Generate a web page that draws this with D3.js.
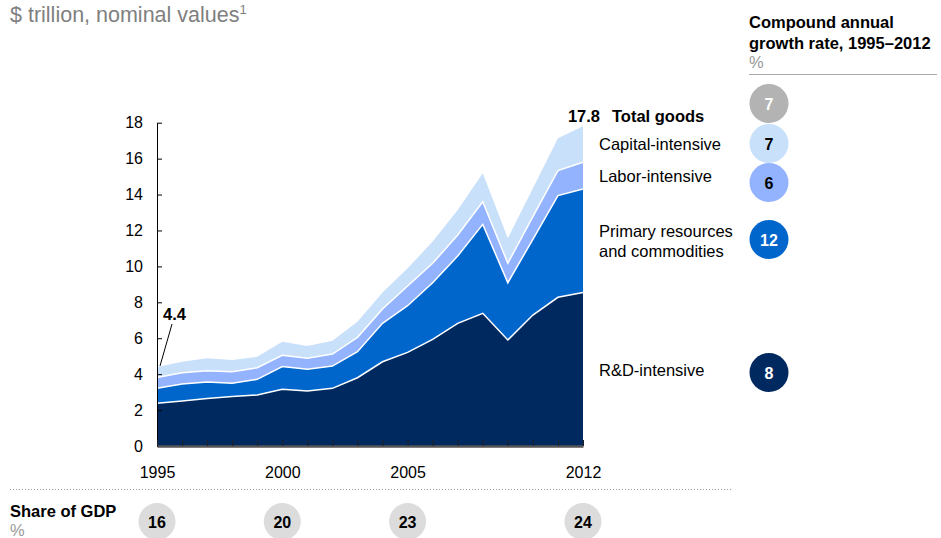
<!DOCTYPE html>
<html>
<head>
<meta charset="utf-8">
<script src="https://cdn.jsdelivr.net/npm/d3@7"></script>
<style>
  body { margin: 0; background: #fff; }
  svg { font-family: "Liberation Sans", Arial, sans-serif; }
</style>
</head>
<body>
<svg></svg>
<script>
// data ($ trillion, layer thickness)
const years = [1995,1996,1997,1998,1999,2000,2001,2002,2003,2004,2005,2006,2007,2008,2009,2010,2011,2012]
const rdIntensive = [2.38,2.50,2.64,2.75,2.84,3.16,3.06,3.21,3.80,4.69,5.21,5.94,6.83,7.39,5.90,7.29,8.28,8.54]
const primaryRes = [0.83,0.95,0.92,0.74,0.87,1.26,1.21,1.24,1.45,2.14,2.60,3.15,3.75,4.95,3.19,4.22,5.66,5.77]
const laborIntensive = [0.61,0.63,0.63,0.65,0.65,0.63,0.61,0.67,0.80,0.80,1.10,1.08,1.17,1.26,1.08,1.26,1.39,1.49]
const capitalIntensive = [0.58,0.61,0.69,0.65,0.61,0.76,0.69,0.74,0.87,0.91,0.98,1.21,1.39,1.58,1.39,1.58,1.80,2.00]

const seriesKeys = ['rd','primary','labor','capital']
const seriesLabels = [['R&D-intensive'], ['Primary resources','and commodities'], ['Labor-intensive'], ['Capital-intensive']]
const cagr = [8, 12, 6, 7]
const totalCagr = 7
const yTicks = [0,2,4,6,8,10,12,14,16,18]
const labelYears = [1995, 2000, 2005, 2012]
const gdpShare = [16, 20, 23, 24]

const width = 941, height = 538
const svg = d3.select('svg').attr('width', width).attr('height', height)

const colors = ['#002960', '#0066cc', '#93b3ff', '#c8e0fa']
const textColors = ['#fff', '#fff', '#000', '#000']

const table = years.map((y, i) => ({
  year: y, rd: rdIntensive[i], primary: primaryRes[i], labor: laborIntensive[i], capital: capitalIntensive[i]
}))
const stacked = d3.stack().keys(seriesKeys)(table)

const x = d3.scaleLinear().domain([1995, 2012]).range([157, 583])
const y = d3.scaleLinear().domain([0, 18]).range([446, 122.7])

// areas
const area = d3.area()
  .x(d => x(d.data.year))
  .y0(d => y(d[0]))
  .y1(d => y(d[1]))

svg.append('g').selectAll('path')
  .data(stacked)
  .enter().append('path')
  .attr('d', area)
  .attr('fill', (d, i) => colors[i])

// white separators between layers
const topLine = d3.line().x(d => x(d.data.year)).y(d => y(d[1]))
svg.append('g').selectAll('path')
  .data(stacked.slice(0, 3))
  .enter().append('path')
  .attr('d', topLine)
  .attr('fill', 'none')
  .attr('stroke', '#fff')
  .attr('stroke-width', 1.5)

// axes
const yAxis = d3.axisLeft(y).tickValues(yTicks).tickSize(-5).tickSizeOuter(0).tickPadding(14)
const yAxisG = svg.append('g').attr('transform', `translate(${x(1995)},0)`).call(yAxis)
yAxisG.select('.domain').attr('stroke', '#000')
yAxisG.selectAll('text').attr('font-size', 16).attr('fill', '#000').attr('font-family', null)

const xAxis = d3.axisBottom(x).tickValues(years).tickSize(-6).tickSizeOuter(0).tickPadding(21)
  .tickFormat(d => labelYears.includes(d) ? d : '')
const xAxisG = svg.append('g').attr('transform', `translate(0,${y(0)})`).call(xAxis)
xAxisG.select('.domain').attr('stroke', '#555').attr('stroke-width', 2.5)
xAxisG.selectAll('.tick line').attr('stroke', '#222')
xAxisG.selectAll('text').attr('font-size', 16).attr('fill', '#000').attr('font-family', null)

// title
svg.append('text').attr('x', 10).attr('y', 21.5)
  .attr('font-size', 21.5).attr('fill', '#808080')
  .text('$ trillion, nominal values')
  .append('tspan').attr('font-size', 13).attr('dy', -8).text('1')

// 4.4 annotation
const startTotal = d3.sum(seriesKeys, k => table[0][k])
svg.append('line')
  .attr('x1', x(1995) + 3).attr('y1', y(startTotal) - 1)
  .attr('x2', x(1995) + 15).attr('y2', 324)
  .attr('stroke', '#000').attr('stroke-width', 1)
svg.append('text').attr('x', 163).attr('y', 319.5)
  .attr('font-size', 16.5).attr('font-weight', 'bold')
  .text(d3.format('.1f')(startTotal))

// 17.8 total goods
const endTotal = d3.sum(seriesKeys, k => table[table.length - 1][k])
svg.append('text').attr('x', 600).attr('y', 121.5).attr('text-anchor', 'end')
  .attr('font-size', 16.5).attr('font-weight', 'bold')
  .text(d3.format('.1f')(endTotal))
svg.append('text').attr('x', 612).attr('y', 121.5)
  .attr('font-size', 16.5).attr('font-weight', 'bold')
  .text('Total goods')

// series labels + CAGR bubbles
const labelBase = [375.5, 236.5, 181.5, 150]
const bubbleY = [372.5, 239.5, 182.5, 143.5]
seriesLabels.forEach((lines, i) => {
  const t = svg.append('text').attr('x', 599).attr('y', labelBase[i]).attr('font-size', 16.5)
  lines.forEach((l, j) => t.append('tspan').attr('x', 599).attr('dy', j ? 20 : 0).text(l))
  svg.append('circle').attr('cx', 769).attr('cy', bubbleY[i]).attr('r', 19.5).attr('fill', colors[i])
  svg.append('text').attr('x', 769).attr('y', bubbleY[i] + 6).attr('text-anchor', 'middle')
    .attr('font-size', 16).attr('font-weight', 'bold').attr('fill', textColors[i]).text(cagr[i])
})
svg.append('circle').attr('cx', 769).attr('cy', 103.5).attr('r', 19.5).attr('fill', '#b3b3b3')
svg.append('text').attr('x', 769).attr('y', 109.5).attr('text-anchor', 'middle')
  .attr('font-size', 16).attr('font-weight', 'bold').attr('fill', '#fff').text(totalCagr)

// CAGR header
svg.append('text').attr('x', 749).attr('y', 27.5).attr('font-size', 16.5).attr('font-weight', 'bold').text('Compound annual')
svg.append('text').attr('x', 749).attr('y', 48.5).attr('font-size', 16.5).attr('font-weight', 'bold').text('growth rate, 1995–2012')
svg.append('text').attr('x', 749).attr('y', 68).attr('font-size', 16.5).attr('fill', '#999').text('%')
svg.append('line').attr('x1', 749).attr('x2', 937).attr('y1', 74.5).attr('y2', 74.5)
  .attr('stroke', '#aaa').attr('stroke-width', 1)

// share of GDP row
svg.append('line').attr('x1', 10).attr('x2', 732).attr('y1', 489.5).attr('y2', 489.5)
  .attr('stroke', '#999').attr('stroke-width', 1).attr('stroke-dasharray', '1,2')
svg.append('text').attr('x', 10).attr('y', 517).attr('font-size', 16.5).attr('font-weight', 'bold').text('Share of GDP')
svg.append('text').attr('x', 10).attr('y', 536).attr('font-size', 16.5).attr('fill', '#999').text('%')
const gdpG = svg.append('g').selectAll('g')
  .data(labelYears.map((yr, i) => ({ yr, v: gdpShare[i] })))
  .enter().append('g')
  .attr('transform', d => `translate(${x(d.yr)},521.5)`)
gdpG.append('circle').attr('r', 18.5).attr('fill', '#dcdcdc')
gdpG.append('text').attr('y', 6).attr('text-anchor', 'middle')
  .attr('font-size', 16).attr('font-weight', 'bold').text(d => d.v)
</script>
</body>
</html>
